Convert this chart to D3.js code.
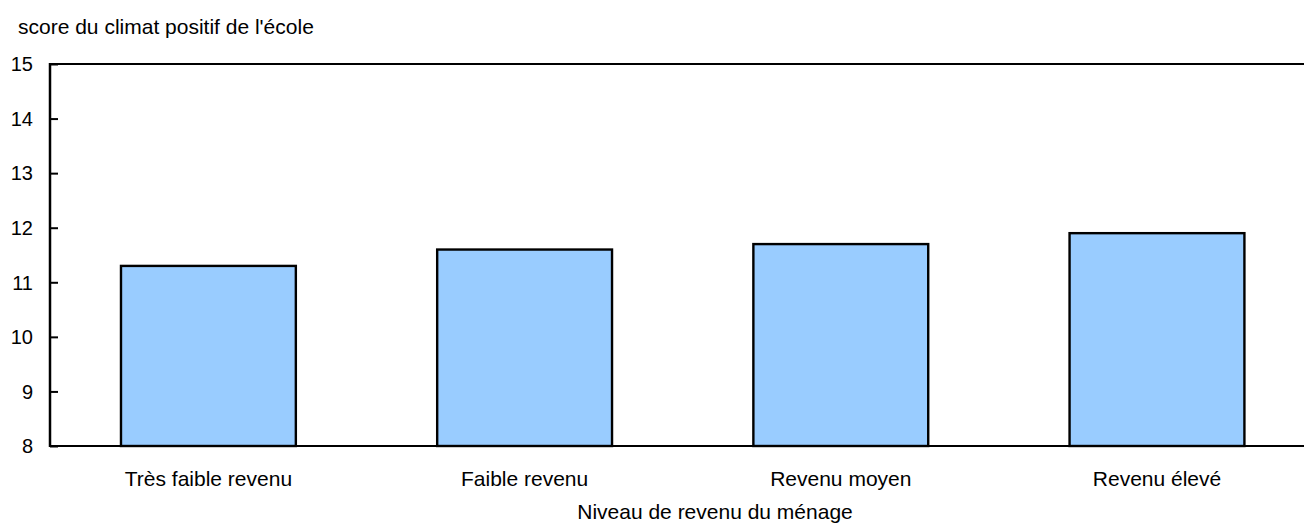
<!DOCTYPE html>
<html>
<head>
<meta charset="utf-8">
<script src="https://cdn.jsdelivr.net/npm/d3@7"></script>
<style>
  html, body { margin: 0; padding: 0; background: #fff; }
  svg { display: block; }
  text { font-family: "Liberation Sans", Arial, Helvetica, sans-serif; fill: #000; }
</style>
</head>
<body>
<svg id="chart" width="1304" height="523"></svg>
<script>
const categories = ["Très faible revenu", "Faible revenu", "Revenu moyen", "Revenu élevé"];
const values = [11.3, 11.6, 11.7, 11.9];
const yTicks = [8, 9, 10, 11, 12, 13, 14, 15];
const yTitle = "score du climat positif de l'école";
const xTitle = "Niveau de revenu du ménage";

const mLeft = 50, mRight = 1304, mTop = 64, mBottom = 446;
const FS = 21;
const svg = d3.select("#chart");

const x = d3.scaleBand().domain(categories).range([mLeft, 1315.4]).paddingInner(0.447).paddingOuter(0.2245);
const y = d3.scaleLinear().domain([8, 15]).range([mBottom, mTop]);

// bars
svg.append("g").selectAll("rect").data(values).join("rect")
  .attr("x", (d, i) => x(categories[i]))
  .attr("y", d => y(d))
  .attr("width", x.bandwidth())
  .attr("height", d => y(8) - y(d))
  .attr("fill", "#99ccff")
  .attr("stroke", "#000")
  .attr("stroke-width", 2.4);

// y axis
const yAxis = d3.axisLeft(y).tickValues(yTicks).tickSize(0).tickPadding(17).tickFormat(d3.format("d"));
const gy = svg.append("g").attr("transform", `translate(${mLeft},0)`).call(yAxis);
gy.select(".domain").remove();
gy.selectAll("text").attr("font-size", 20).attr("dy", "0.34em").style("font-family", '"Liberation Sans", Arial, sans-serif');
gy.selectAll(".tick").append("line").attr("x1", 0).attr("x2", 8).attr("stroke", "#000").attr("stroke-width", 2);

// frame lines
svg.append("line").attr("x1", mLeft).attr("x2", mLeft).attr("y1", mTop - 1).attr("y2", mBottom + 1).attr("stroke", "#000").attr("stroke-width", 2.5);
svg.append("line").attr("x1", mLeft).attr("x2", mRight).attr("y1", mTop).attr("y2", mTop).attr("stroke", "#000").attr("stroke-width", 2);
svg.append("line").attr("x1", mLeft).attr("x2", mRight).attr("y1", mBottom).attr("y2", mBottom).attr("stroke", "#000").attr("stroke-width", 2);

// x axis labels
const xAxis = d3.axisBottom(x).tickSize(0).tickPadding(0);
const gx = svg.append("g").attr("transform", `translate(0,${mBottom})`).call(xAxis);
gx.select(".domain").remove();
gx.selectAll("text").attr("font-size", FS).attr("dy", null).attr("y", 40).style("font-family", '"Liberation Sans", Arial, sans-serif');

// titles
svg.append("text").attr("x", 18).attr("y", 34).attr("font-size", FS).text(yTitle);
svg.append("text").attr("x", 715).attr("y", 519).attr("text-anchor", "middle").attr("font-size", FS).text(xTitle);
</script>
</body>
</html>
